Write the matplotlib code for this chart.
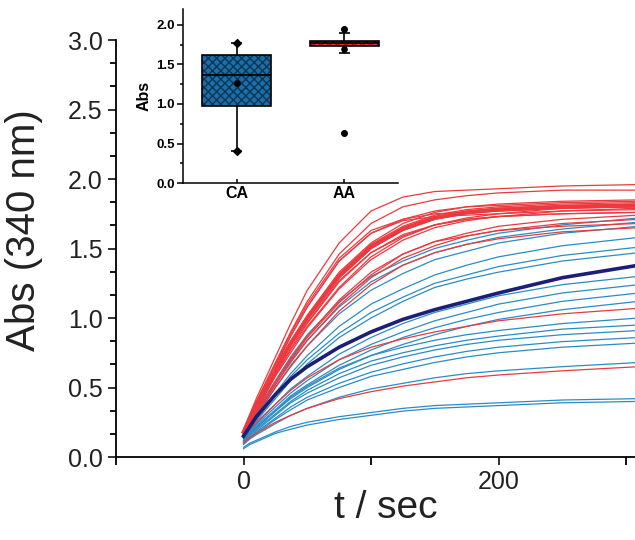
import matplotlib
matplotlib.use("Agg")
import matplotlib.pyplot as plt
from matplotlib.ticker import MultipleLocator, AutoMinorLocator

plt.rcParams['font.family'] = ['Liberation Sans', 'DejaVu Sans']

# =============================
#  Kinetic traces
# =============================
t_sec = [0, 5, 10, 25, 37, 50, 75, 100, 125, 150, 175, 200, 250, 310]

# AA traces (red, thin)
aa_curves = [
    [0.20, 0.31, 0.42, 0.72, 0.96, 1.20, 1.54, 1.77, 1.87, 1.91, 1.92, 1.93, 1.95, 1.96],
    [0.19, 0.30, 0.40, 0.68, 0.90, 1.12, 1.46, 1.68, 1.80, 1.85, 1.88, 1.90, 1.92, 1.92],
    [0.20, 0.30, 0.39, 0.66, 0.87, 1.08, 1.41, 1.61, 1.71, 1.77, 1.80, 1.81, 1.83, 1.84],
    [0.19, 0.28, 0.37, 0.63, 0.83, 1.01, 1.32, 1.53, 1.66, 1.74, 1.78, 1.80, 1.82, 1.83],
    [0.18, 0.27, 0.36, 0.62, 0.82, 1.00, 1.31, 1.52, 1.65, 1.73, 1.77, 1.79, 1.81, 1.82],
    [0.17, 0.26, 0.34, 0.59, 0.77, 0.94, 1.22, 1.44, 1.58, 1.67, 1.72, 1.75, 1.79, 1.81],
    [0.17, 0.26, 0.35, 0.61, 0.81, 0.99, 1.29, 1.50, 1.63, 1.71, 1.75, 1.77, 1.79, 1.80],
    [0.16, 0.24, 0.33, 0.58, 0.75, 0.93, 1.21, 1.42, 1.56, 1.65, 1.70, 1.73, 1.77, 1.79],
    [0.18, 0.27, 0.36, 0.63, 0.83, 1.02, 1.33, 1.54, 1.68, 1.76, 1.80, 1.82, 1.84, 1.85],
    [0.17, 0.27, 0.37, 0.64, 0.87, 1.08, 1.41, 1.61, 1.70, 1.73, 1.74, 1.75, 1.77, 1.78],
    [0.16, 0.25, 0.34, 0.59, 0.78, 0.96, 1.26, 1.47, 1.59, 1.67, 1.71, 1.73, 1.75, 1.76],
    [0.19, 0.29, 0.39, 0.67, 0.89, 1.10, 1.43, 1.63, 1.71, 1.75, 1.76, 1.77, 1.79, 1.80],
    [0.18, 0.27, 0.35, 0.61, 0.80, 0.97, 1.27, 1.47, 1.60, 1.67, 1.71, 1.73, 1.75, 1.76],
    [0.16, 0.24, 0.32, 0.54, 0.70, 0.86, 1.11, 1.31, 1.46, 1.55, 1.61, 1.66, 1.71, 1.74],
    [0.15, 0.23, 0.31, 0.52, 0.68, 0.84, 1.09, 1.29, 1.43, 1.52, 1.59, 1.63, 1.68, 1.71],
    [0.15, 0.23, 0.31, 0.54, 0.71, 0.87, 1.13, 1.33, 1.46, 1.55, 1.59, 1.63, 1.66, 1.68],
    [0.14, 0.22, 0.29, 0.50, 0.65, 0.80, 1.05, 1.24, 1.38, 1.47, 1.53, 1.57, 1.62, 1.65],
    [0.14, 0.20, 0.25, 0.38, 0.48, 0.57, 0.70, 0.79, 0.85, 0.90, 0.94, 0.98, 1.03, 1.07],
    [0.10, 0.14, 0.17, 0.25, 0.30, 0.35, 0.42, 0.47, 0.51, 0.54, 0.57, 0.59, 0.62, 0.65],
]
aa_mean = [0.18, 0.27, 0.36, 0.62, 0.82, 1.00, 1.30, 1.51, 1.64, 1.72, 1.76, 1.78, 1.80, 1.81]

# CA traces (blue, thin)
ca_curves = [
    [0.17, 0.25, 0.33, 0.55, 0.72, 0.88, 1.12, 1.30, 1.41, 1.50, 1.56, 1.61, 1.67, 1.72],
    [0.16, 0.24, 0.31, 0.52, 0.69, 0.84, 1.08, 1.26, 1.38, 1.47, 1.53, 1.58, 1.64, 1.69],
    [0.16, 0.23, 0.30, 0.50, 0.66, 0.80, 1.03, 1.20, 1.32, 1.42, 1.48, 1.54, 1.61, 1.66],
    [0.15, 0.22, 0.28, 0.46, 0.60, 0.73, 0.94, 1.10, 1.21, 1.31, 1.38, 1.44, 1.52, 1.58],
    [0.15, 0.21, 0.27, 0.44, 0.58, 0.70, 0.89, 1.04, 1.15, 1.25, 1.31, 1.37, 1.45, 1.51],
    [0.14, 0.20, 0.26, 0.42, 0.55, 0.67, 0.86, 1.00, 1.12, 1.22, 1.28, 1.33, 1.41, 1.47],
    [0.14, 0.19, 0.24, 0.38, 0.49, 0.58, 0.74, 0.86, 0.96, 1.04, 1.10, 1.16, 1.24, 1.30],
    [0.13, 0.18, 0.23, 0.36, 0.46, 0.55, 0.70, 0.81, 0.90, 0.98, 1.04, 1.10, 1.18, 1.24],
    [0.13, 0.18, 0.22, 0.34, 0.44, 0.52, 0.66, 0.77, 0.86, 0.93, 0.99, 1.04, 1.12, 1.18],
    [0.12, 0.17, 0.21, 0.33, 0.42, 0.50, 0.63, 0.73, 0.81, 0.88, 0.94, 0.99, 1.06, 1.12],
    [0.12, 0.17, 0.21, 0.33, 0.43, 0.51, 0.64, 0.73, 0.79, 0.84, 0.88, 0.91, 0.96, 1.00],
    [0.11, 0.16, 0.20, 0.31, 0.40, 0.48, 0.60, 0.69, 0.75, 0.80, 0.84, 0.87, 0.92, 0.95],
    [0.11, 0.15, 0.19, 0.30, 0.39, 0.46, 0.57, 0.66, 0.72, 0.77, 0.81, 0.84, 0.88, 0.91],
    [0.10, 0.14, 0.18, 0.28, 0.36, 0.43, 0.53, 0.61, 0.67, 0.72, 0.76, 0.79, 0.83, 0.86],
    [0.10, 0.14, 0.17, 0.27, 0.34, 0.41, 0.50, 0.58, 0.63, 0.68, 0.72, 0.75, 0.79, 0.82],
    [0.09, 0.13, 0.16, 0.24, 0.30, 0.35, 0.43, 0.49, 0.53, 0.57, 0.60, 0.62, 0.65, 0.68],
    [0.07, 0.10, 0.12, 0.18, 0.22, 0.25, 0.29, 0.32, 0.35, 0.37, 0.38, 0.39, 0.41, 0.42],
    [0.06, 0.09, 0.11, 0.17, 0.20, 0.23, 0.27, 0.30, 0.33, 0.35, 0.36, 0.37, 0.39, 0.40],
]
ca_mean = [0.15, 0.22, 0.29, 0.45, 0.56, 0.65, 0.79, 0.90, 0.99, 1.06, 1.12, 1.18, 1.29, 1.38]

# =============================
#  Inset box plot stats
# =============================
groups = ['CA', 'AA']
box_q1 = [0.97, 1.73]
box_med = [1.37, 1.77]
box_q3 = [1.62, 1.80]
whisk_lo = [0.40, 1.65]
whisk_hi = [1.77, 1.90]
box_mean = [1.27, 1.70]
ca_ends = [0.40, 1.77]
aa_ends = [0.63, 1.95]

RED = '#ea3a3f'
BLUE = '#2b8cc4'
NAVY = '#1c1f78'

fig = plt.figure(figsize=(6.35, 5.4), dpi=100)
ax = fig.add_axes([0.1827, 0.1537, 0.8173, 0.7722])

for c in ca_curves:
    ax.plot(t_sec, c, color=BLUE, lw=0.9)
for c in aa_curves:
    ax.plot(t_sec, c, color=RED, lw=0.9)
ax.plot(t_sec, aa_mean, color=RED, lw=2.8)
ax.plot(t_sec, ca_mean, color=NAVY, lw=2.6)

ax.set_xlim(-100, 307)
ax.set_ylim(0, 3.0)
ax.spines['top'].set_visible(False)
ax.spines['right'].set_visible(False)
for s in ('left', 'bottom'):
    ax.spines[s].set_linewidth(1.3)
ax.xaxis.set_major_locator(MultipleLocator(200))
ax.xaxis.set_minor_locator(MultipleLocator(100))
ax.yaxis.set_major_locator(MultipleLocator(0.5))
ax.yaxis.set_minor_locator(AutoMinorLocator(3))
ax.tick_params(which='major', direction='out', length=6, width=1.3, labelsize=18, colors='#222222')
ax.tick_params(which='minor', direction='out', length=4, width=1.3)
ax.tick_params(axis='x', which='minor', length=6)
ax.set_yticklabels([f"{v:.1f}" for v in ax.get_yticks()])
ax.set_xlabel('t / sec', fontsize=28, color='#222222')
ax.set_ylabel('Abs (340 nm)', fontsize=29, color='#222222')
ax.xaxis.set_label_coords(0.52, -0.08)
ax.yaxis.set_label_coords(-0.14, 0.545)

# =============================
#  Inset
# =============================
ins = fig.add_axes([0.288, 0.661, 0.3386, 0.3222])
pos = [1, 2]
heights = [q3 - q1 for q1, q3 in zip(box_q1, box_q3)]
ins.bar(pos, heights, bottom=box_q1, width=0.64, color=['#1b6ea6', '#e03a3c'],
        edgecolor=['#0b3557', '#8a1a1c'], hatch='xxxx', linewidth=0, zorder=2)
ins.bar(pos, heights, bottom=box_q1, width=0.64, fill=False, edgecolor='black',
        linewidth=1.2, zorder=3)
ins.hlines(box_med, [p - 0.32 for p in pos], [p + 0.32 for p in pos], color='black', lw=1.2, zorder=4)
ins.vlines(pos, whisk_lo, box_q1, color='black', lw=1.2, zorder=1)
ins.vlines(pos, box_q3, whisk_hi, color='black', lw=1.2, zorder=1)
ins.hlines(whisk_lo, [p - 0.05 for p in pos], [p + 0.05 for p in pos], color='black', lw=1.2)
ins.hlines(whisk_hi, [p - 0.05 for p in pos], [p + 0.05 for p in pos], color='black', lw=1.2)
ins.scatter(pos, box_mean, s=14, color='black', zorder=5)
ins.scatter([1, 1], ca_ends, s=16, marker='D', color='black', zorder=5)
ins.scatter([2, 2], aa_ends, s=16, color='black', zorder=5)

ins.set_xlim(0.5, 2.5)
ins.set_ylim(0, 2.2)
ins.set_xticks(pos)
ins.set_xticklabels(groups, fontsize=11.5, fontweight='bold')
ins.yaxis.set_major_locator(MultipleLocator(0.5))
ins.yaxis.set_minor_locator(MultipleLocator(0.25))
ins.set_yticklabels([f"{v:.1f}" for v in ins.get_yticks()], fontsize=9.5, fontweight='bold')
ins.spines['top'].set_visible(False)
ins.spines['right'].set_visible(False)
for s in ('left', 'bottom'):
    ins.spines[s].set_linewidth(1.1)
ins.tick_params(axis='y', which='major', direction='out', length=4, width=1.1, pad=2)
ins.tick_params(axis='y', which='minor', direction='out', length=2.5, width=1.1)
ins.tick_params(axis='x', direction='in', length=3, width=1.1, pad=2)
ins.set_ylabel('Abs', fontsize=11.5, fontweight='bold', labelpad=3)
ins.patch.set_alpha(0)

fig.savefig('out.png', dpi=100)
